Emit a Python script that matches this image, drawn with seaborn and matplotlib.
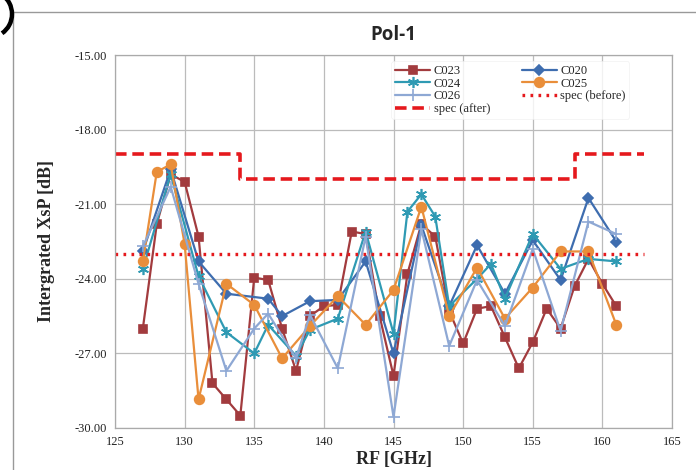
import numpy as np
import pandas as pd
import matplotlib
matplotlib.use("Agg")
import matplotlib.pyplot as plt
import seaborn as sns
from matplotlib.patches import Rectangle, Arc

# ---- data ----
f_c023 = [127,128,129,130,131,132,133,134,135,136,137,138,139,140,141,142,143,144,145,146,147,148,149,150,151,152,153,154,155,156,157,158,159,160,161]
v_c023 = [-26.0,-21.8,-19.8,-20.1,-22.3,-28.2,-28.85,-29.5,-23.95,-24.05,-26.0,-27.7,-25.5,-25.1,-25.05,-22.1,-22.2,-25.5,-27.9,-23.8,-21.8,-22.3,-25.3,-26.6,-25.2,-25.1,-26.35,-27.6,-26.55,-25.2,-26.0,-24.3,-23.2,-24.2,-25.1]

f_c020 = [127,129,131,133,136,137,139,141,143,145,147,149,151,153,155,157,159,161]
v_c020 = [-22.9,-19.6,-23.3,-24.6,-24.8,-25.5,-24.9,-24.85,-23.3,-27.0,-21.85,-25.1,-22.65,-24.6,-22.45,-24.05,-20.75,-22.5]

f_c024 = [127,129,131,133,135,136,138,139,141,143,145,146,147,148,149,151,152,153,155,157,159,161]
v_c024 = [-23.6,-19.8,-23.9,-26.15,-27.0,-25.85,-27.1,-26.05,-25.6,-22.1,-26.2,-21.3,-20.6,-21.5,-25.1,-24.0,-23.4,-24.8,-22.2,-23.6,-23.2,-23.3]

f_c025 = [127,128,129,130,131,133,135,137,139,141,143,145,147,149,151,153,155,157,159,161]
v_c025 = [-23.3,-19.7,-19.4,-22.6,-28.85,-24.2,-25.05,-27.2,-25.9,-24.7,-25.85,-24.45,-21.1,-25.5,-23.55,-25.6,-24.35,-22.9,-22.9,-25.85]

f_c026 = [127,129,131,133,135,136,138,139,141,143,145,147,149,151,153,155,157,159,161]
v_c026 = [-22.7,-20.3,-24.2,-27.7,-26.0,-25.4,-27.2,-25.45,-27.6,-22.3,-29.55,-22.0,-26.7,-24.05,-25.9,-22.8,-26.1,-21.7,-22.2]

spec_after_f = [125,134,134,158,158,163]
spec_after_v = [-19.0,-19.0,-20.0,-20.0,-19.0,-19.0]
spec_before_f = [125,163]
spec_before_v = [-23.0,-23.0]

x_ticks = [125,130,135,140,145,150,155,160,165]
y_ticks = [-30,-27,-24,-21,-18,-15]

# ---- style ----
sns.set_theme(style="whitegrid")
plt.rcParams['font.family'] = ['Liberation Serif', 'DejaVu Serif']

fig = plt.figure(figsize=(6.96, 4.70), dpi=100)
ax = fig.add_axes([115/696, 1-428/470, (672-115)/696, (428-55)/470])

series = [
    ("C023", f_c023, v_c023, "#A23B3E", "s", 6),
    ("C020", f_c020, v_c020, "#3E6DAF", "D", 5),
    ("C024", f_c024, v_c024, "#2F9AB3", (6, 2, 0), 8),
    ("C025", f_c025, v_c025, "#E98E3A", "o", 7),
    ("C026", f_c026, v_c026, "#8EA8D4", "+", 8),
]
for name, fx, fy, col, mk, ms in series:
    df = pd.DataFrame({"f": fx, "v": fy})
    sns.lineplot(data=df, x="f", y="v", ax=ax, color=col, marker=mk, markersize=ms,
                 markeredgecolor=col, markeredgewidth=1.2, linewidth=1.6, label=name,
                 estimator=None, sort=False)

sns.lineplot(x=spec_after_f, y=spec_after_v, ax=ax, color="#E5191D", linewidth=2.6,
             label="spec (after)", estimator=None, sort=False)
ax.lines[-1].set_linestyle((0, (3.2, 1.6)))
sns.lineplot(x=spec_before_f, y=spec_before_v, ax=ax, color="#E5191D", linewidth=2.4,
             label="spec (before)", estimator=None, sort=False)
ax.lines[-1].set_linestyle((0, (0.8, 1.6)))

ax.set_xlim(125, 165)
ax.set_ylim(-30, -15)
ax.set_xticks(x_ticks)
ax.set_yticks(y_ticks)
ax.set_xticklabels([str(t) for t in x_ticks], fontsize=9)
ax.set_yticklabels(["%.2f" % t for t in y_ticks], fontsize=9)
ax.grid(True, color="#BBBBBB", linewidth=0.9)
for s in ax.spines.values():
    s.set_color("#AAAAAA")
    s.set_linewidth(0.9)
ax.tick_params(axis='both', length=0, pad=6, colors="#222222")

ax.set_xlabel("RF [GHz]", fontsize=13, fontweight="bold", labelpad=2)
ax.set_ylabel("Intergrated XsP [dB]", fontsize=13, fontweight="bold", labelpad=14)
fig.text(0.5*(115+672)/696, 1-35/470, "Pol-1", ha="center", va="center",
         fontsize=13.5, fontweight="bold", family=["Open Sans", "DejaVu Sans"])

h, l = ax.get_legend_handles_labels()
order = ["C023", "C024", "C026", "spec (after)", "C020", "C025", "spec (before)"]
hh = [h[l.index(o)] for o in order]
leg = ax.legend(hh, order, ncol=2, loc="upper left", bbox_to_anchor=(0.485, 1.0),
                fontsize=9, frameon=True, handlelength=2.8, columnspacing=2.5,
                labelspacing=0.05, borderpad=0.3, handletextpad=0.3)
leg.get_frame().set_edgecolor("#EEEEEE")
leg.get_frame().set_linewidth(0.5)

# outer chart frame and cropped panel-label bracket
fig.patches.append(Rectangle((13/696, -0.01), 1.0, 1-12/470 + 0.01, transform=fig.transFigure,
                             fill=False, edgecolor="#999999", linewidth=1.0))
fig.patches.append(Arc((-0.10, 4.56), 0.44, 0.46, theta1=-58, theta2=58,
                       transform=fig.dpi_scale_trans, color="black", linewidth=3.2))

fig.savefig("out.png", dpi=100)
